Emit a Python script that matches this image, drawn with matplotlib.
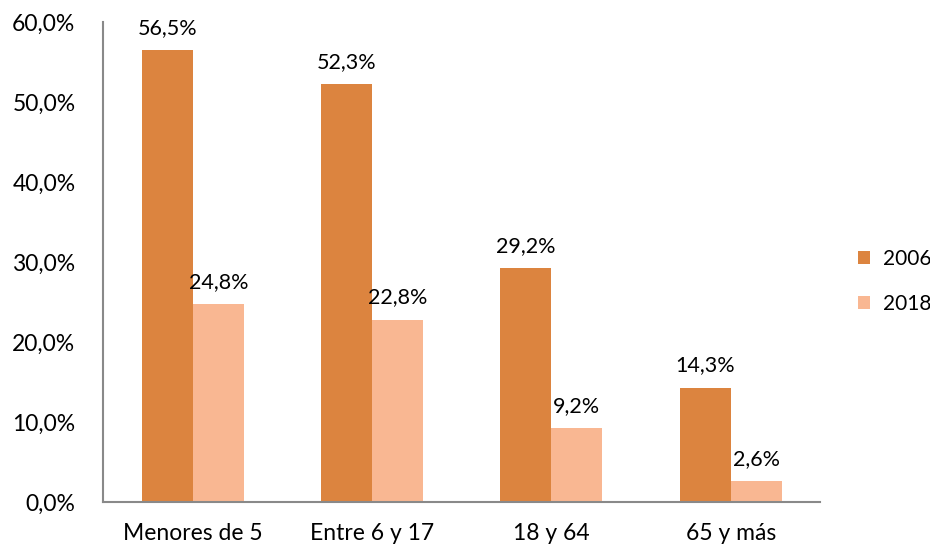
import matplotlib.pyplot as plt
import numpy as np

plt.rcParams['font.family'] = ['Lato', 'DejaVu Sans']

categorias = ['Menores de 5', 'Entre 6 y 17', '18 y 64', '65 y más']
valores_2006 = [56.5, 52.3, 29.2, 14.3]
valores_2018 = [24.8, 22.8, 9.2, 2.6]
ticks_y = [0, 10, 20, 30, 40, 50, 60]

color_2006 = '#DC843F'
color_2018 = '#F9B792'

fig = plt.figure(figsize=(9.3, 5.51), dpi=100)
ax = fig.add_axes([0.111, 0.089, 0.771, 0.871])

x = np.arange(len(categorias))
w = 0.285
b1 = ax.bar(x - w / 2, valores_2006, w, color=color_2006, label='2006')
b2 = ax.bar(x + w / 2, valores_2018, w, color=color_2018, label='2018')

for barras in (b1, b2):
    for b in barras:
        h = b.get_height()
        ax.text(b.get_x() + b.get_width() / 2, h + 1.5, f'{h:.1f}%'.replace('.', ','),
                ha='center', va='bottom', fontsize=15.5)

ax.set_xlim(-0.5, len(categorias) - 0.5)
ax.set_ylim(0, 60)
ax.set_yticks(ticks_y)
ax.set_yticklabels([f'{t:.1f}%'.replace('.', ',') for t in ticks_y], fontsize=16.5)
ax.set_xticks(x)
ax.set_xticklabels(categorias, fontsize=16.5)
ax.tick_params(axis='both', length=0)
ax.tick_params(axis='y', pad=20)
ax.tick_params(axis='x', pad=15)

for s in ('top', 'right'):
    ax.spines[s].set_visible(False)
for s in ('left', 'bottom'):
    ax.spines[s].set_color('#898989')
    ax.spines[s].set_linewidth(1.5)

ax.legend(loc='center left', bbox_to_anchor=(1.026, 0.46), frameon=False,
          fontsize=15, handlelength=0.6, handleheight=0.6, labelspacing=1.2,
          handletextpad=0.6)

fig.savefig('out.png', dpi=100)
